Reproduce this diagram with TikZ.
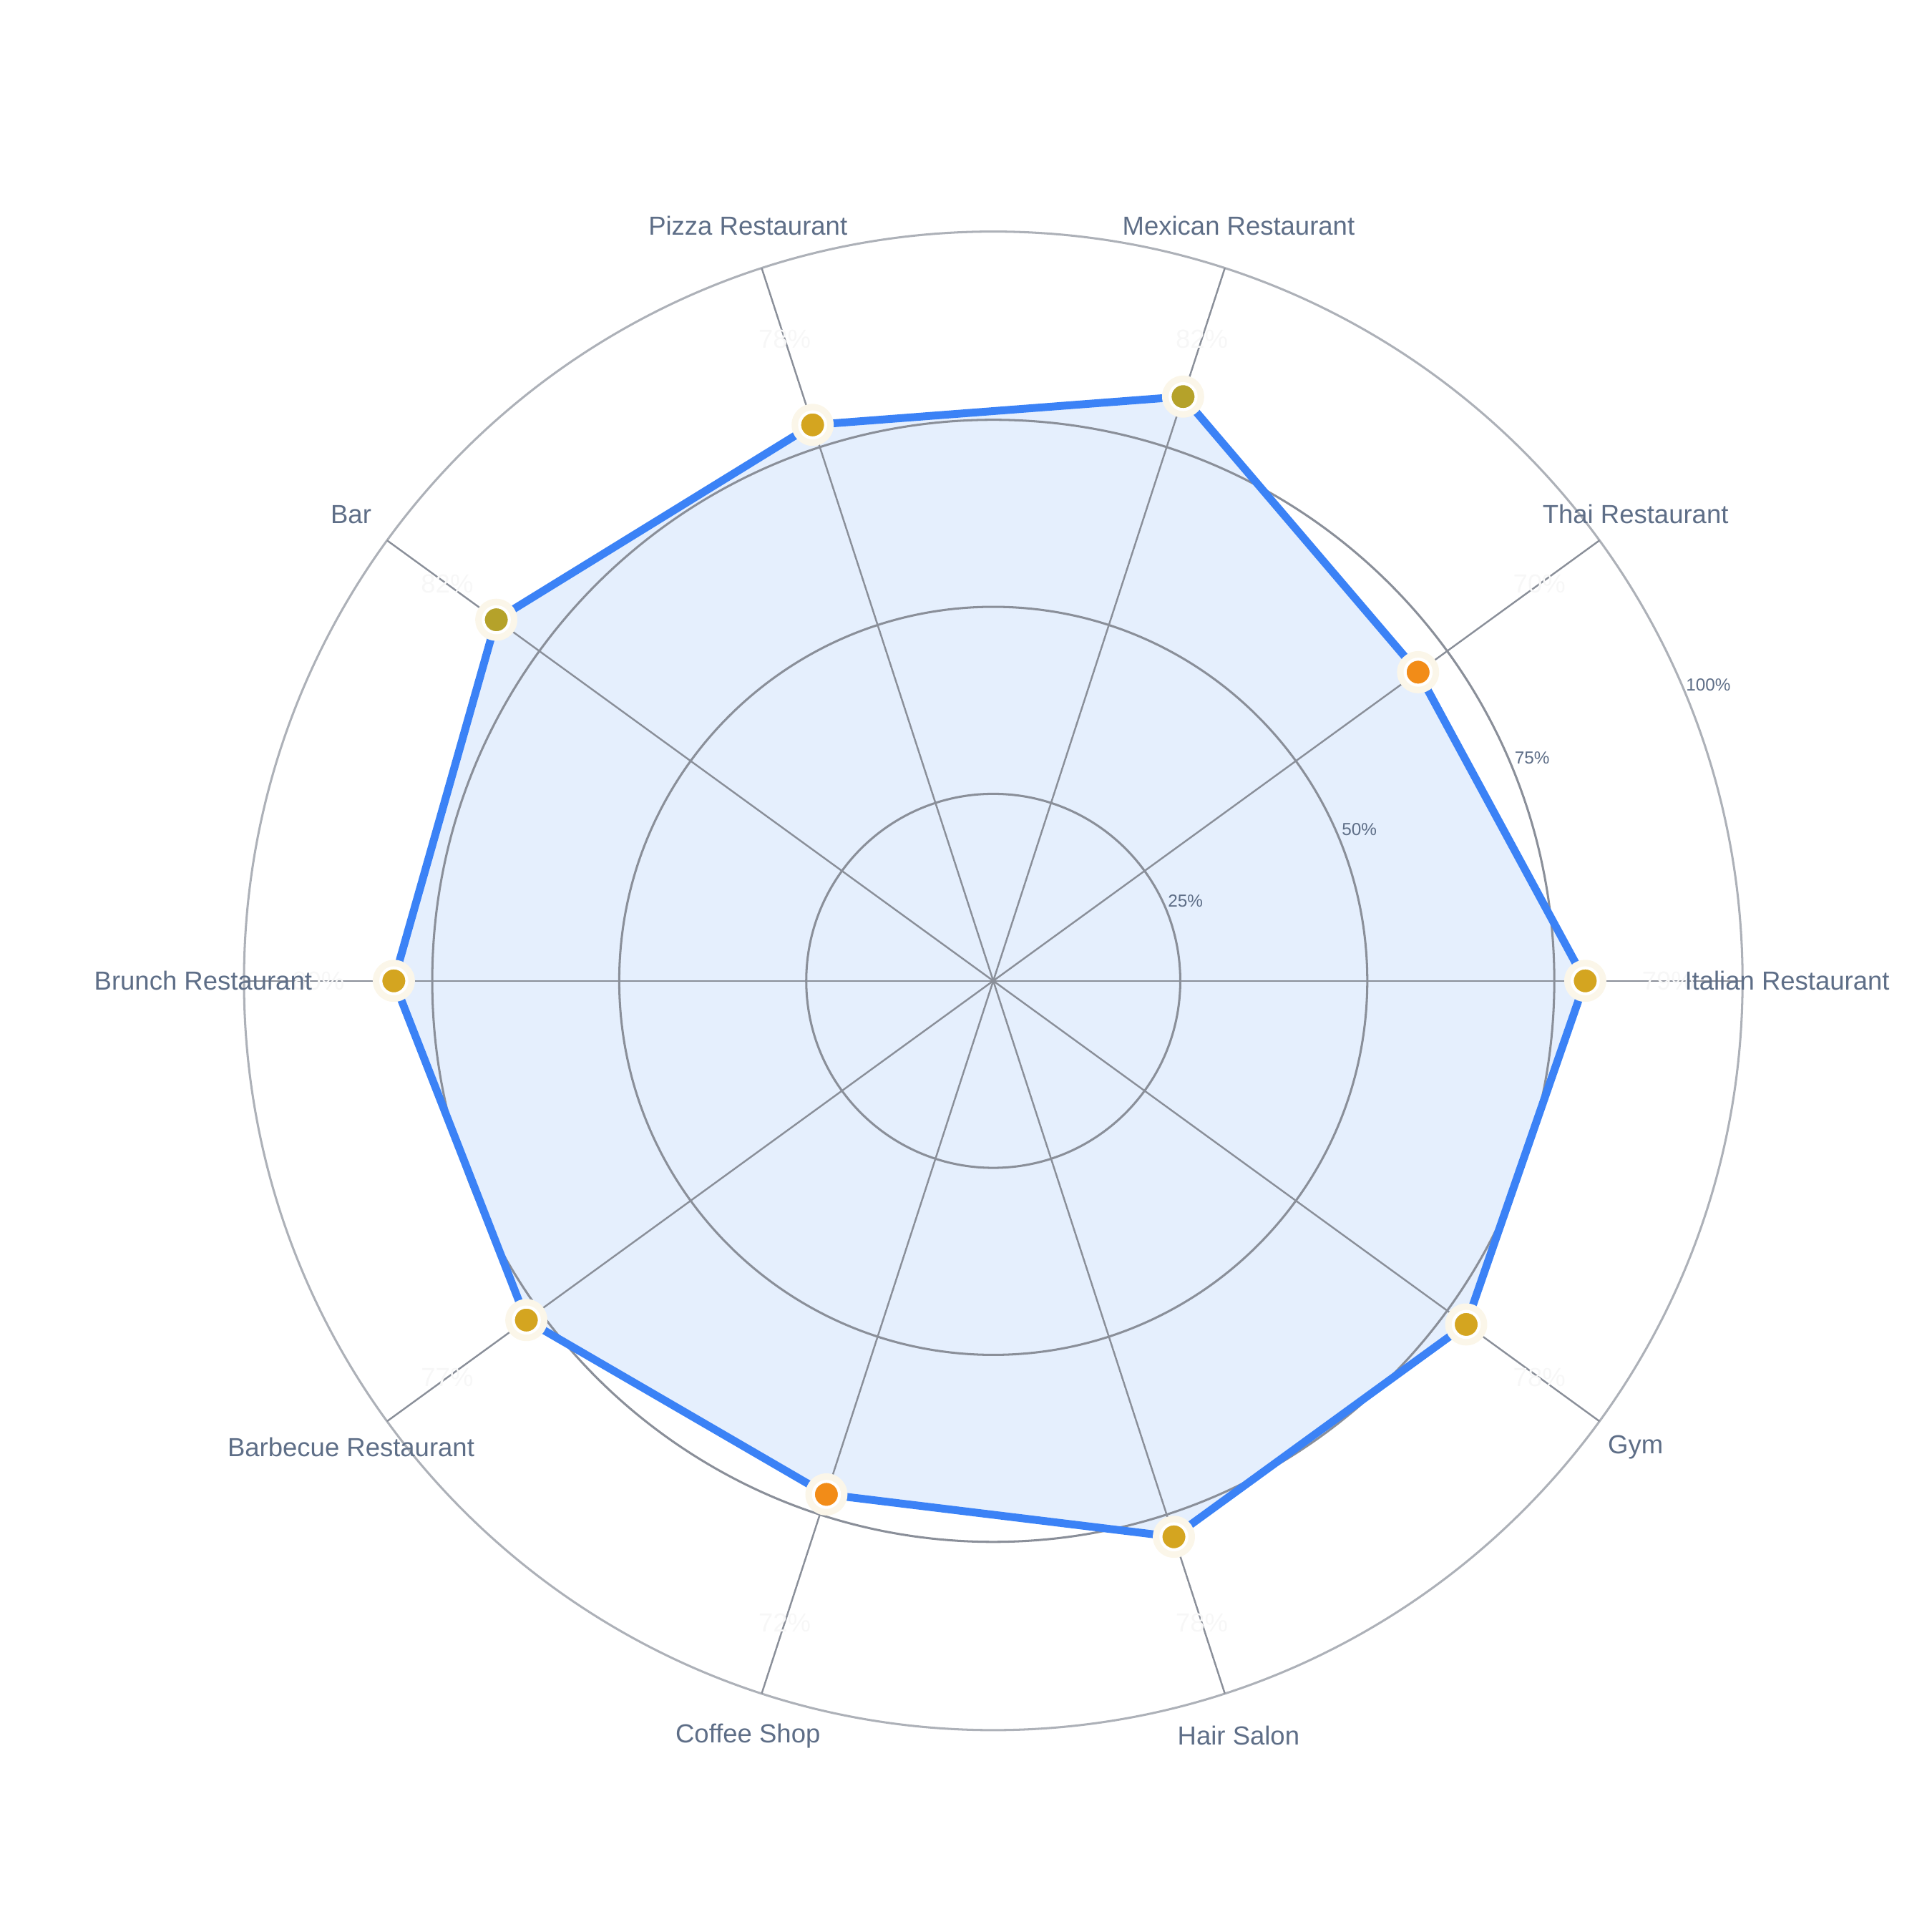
\documentclass[tikz,border=0pt]{standalone}
\usepackage{fontspec}
\setmainfont{Liberation Sans}
\usetikzlibrary{positioning,calc}
\definecolor{ringgray}{HTML}{8A8F99}
\definecolor{labelgray}{HTML}{5E6E87}
\definecolor{areablue}{HTML}{E5EFFD}
\definecolor{lineblue}{HTML}{3B82F6}
\definecolor{dotgold}{HTML}{D4A520}
\definecolor{dotolive}{HTML}{B5A22A}
\definecolor{dotorange}{HTML}{F28C18}
\tikzstyle{ring}=[draw=ringgray, line width=0.5pt]
\tikzstyle{spoke}=[draw=ringgray, line width=0.4pt]
\tikzstyle{catlabel}=[text=labelgray, font=\fontsize{6}{7}\selectfont, anchor=center]
\tikzstyle{ticklabel}=[text=labelgray, font=\fontsize{4}{5}\selectfont, anchor=center]
\tikzstyle{vallabel}=[text=gray!6, font=\fontsize{6}{7}\selectfont, anchor=center]
\tikzstyle{dot}=[circle, draw=white, line width=0.7pt, minimum size=0.21cm, inner sep=0pt]
\tikzstyle{halo}=[circle, fill=dotgold!10, minimum size=0.34cm, inner sep=0pt]

\begin{document}
\begin{tikzpicture}
  \useasboundingbox (0,0) rectangle (15.6,15.6);
  \coordinate (c) at (8.02,7.68);

  % polygon area
  \path [fill=areablue]
    ($(c)+(0:4.78)$) -- ($(c)+(36:4.24)$) -- ($(c)+(72:4.96)$) -- ($(c)+(108:4.72)$)
    -- ($(c)+(144:4.96)$) -- ($(c)+(180:4.84)$) -- ($(c)+(216:4.66)$) -- ($(c)+(252:4.36)$)
    -- ($(c)+(288:4.72)$) -- ($(c)+(324:4.72)$) -- cycle;

  % rings and spokes
  \foreach \r in {1.51,3.02,4.53} \draw [ring] (c) circle (\r);
  \draw [ring, draw=ringgray!70] (c) circle (6.05);
  \foreach \a in {0,36,...,324} \draw [spoke] (c) -- ++(\a:6.05);

  % tick labels
  \path (c)+(22.5:1.68) node (t25) [ticklabel] {25\%};
  \path (c)+(22.5:3.2) node (t50) [ticklabel] {50\%};
  \path (c)+(22.5:4.71) node (t75) [ticklabel] {75\%};
  \path (c)+(22.5:6.25) node (t100) [ticklabel] {100\%};

  % data line
  \draw [lineblue, line width=1.8pt, line join=round]
    ($(c)+(0:4.78)$) -- ($(c)+(36:4.24)$) -- ($(c)+(72:4.96)$) -- ($(c)+(108:4.72)$)
    -- ($(c)+(144:4.96)$) -- ($(c)+(180:4.84)$) -- ($(c)+(216:4.66)$) -- ($(c)+(252:4.36)$)
    -- ($(c)+(288:4.72)$) -- ($(c)+(324:4.72)$) -- cycle;

  % markers
  \foreach \a/\r/\col/\nm in {0/4.78/dotgold/italian, 36/4.24/dotorange/thai,
      72/4.96/dotolive/mexican, 108/4.72/dotgold/pizza, 144/4.96/dotolive/bar,
      180/4.84/dotgold/brunch, 216/4.66/dotgold/bbq, 252/4.36/dotorange/coffee,
      288/4.72/dotgold/hair, 324/4.72/dotgold/gym} {
    \path (c)+(\a:\r) node [halo] {};
    \path (c)+(\a:\r) node (m\nm) [dot, fill=\col] {};
  }

  % value labels
  \foreach \a/\v in {0/79,36/70,72/82,108/78,144/82,180/80,216/77,252/72,288/78,324/78}
    \path (c)+(\a:5.45) node [vallabel] {\v\%};

  % category labels
  \path (c)+(0:6.41) node (litalian) [catlabel] {Italian Restaurant};
  \path (c)+(36:6.41) node (lthai) [catlabel] {Thai Restaurant};
  \path (c)+(72:6.41) node (lmexican) [catlabel] {Mexican Restaurant};
  \path (c)+(108:6.41) node (lpizza) [catlabel] {Pizza Restaurant};
  \path (c)+(144:6.41) node (lbar) [catlabel] {Bar};
  \path (c)+(180:6.38) node (lbrunch) [catlabel] {Brunch Restaurant};
  \path (c)+(216:6.41) node (lbbq) [catlabel] {Barbecue Restaurant};
  \path (c)+(252:6.41) node (lcoffee) [catlabel] {Coffee Shop};
  \path (c)+(288:6.41) node (lhair) [catlabel] {Hair Salon};
  \path (c)+(324:6.41) node (lgym) [catlabel] {Gym};
\end{tikzpicture}
\end{document}
